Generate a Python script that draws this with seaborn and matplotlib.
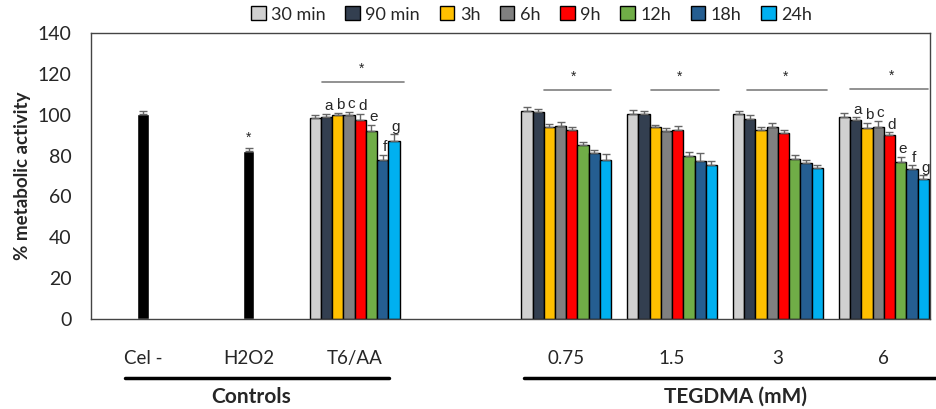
import numpy as np
import matplotlib
matplotlib.use("Agg")
import matplotlib.pyplot as plt
import matplotlib.transforms as mtransforms
import pandas as pd
import seaborn as sns

# categories on the x axis (one blank slot between controls and TEGDMA)
categories = ["Cel -", "H2O2", "T6/AA", " ", "0.75", "1.5", "3", "6"]
grouped_cats = ["T6/AA", "0.75", "1.5", "3", "6"]
times = ["30 min", "90 min", "3h", "6h", "9h", "12h", "18h", "24h"]
colors = ["#D0D0D0", "#333F50", "#FFC000", "#808080",
          "#FF0000", "#70AD47", "#255E91", "#00B0F0"]

# control bars (black, single value)
control_cats = ["Cel -", "H2O2"]
control_vals = [100.5, 82.2]
control_err = [1.5, 1.5]

# mean % metabolic activity per time, for T6/AA, 0.75, 1.5, 3, 6 mM
vals_30min = [98.4, 101.7, 100.2, 100.2, 98.9]
vals_90min = [98.9, 101.4, 100.2, 98.1, 97.3]
vals_3h = [99.9, 94.0, 94.0, 92.4, 93.5]
vals_6h = [99.9, 94.5, 91.9, 94.0, 94.0]
vals_9h = [97.3, 92.4, 92.4, 91.1, 90.0]
vals_12h = [92.0, 85.0, 80.0, 78.6, 76.9]
vals_18h = [77.7, 81.3, 77.4, 76.4, 73.7]
vals_24h = [87.2, 77.7, 75.6, 73.8, 68.8]

err_30min = [1.3, 2.0, 2.0, 1.8, 2.0]
err_90min = [1.5, 1.5, 1.5, 2.0, 1.5]
err_3h = [1.0, 1.5, 1.0, 1.5, 2.5]
err_6h = [1.5, 2.0, 1.5, 2.0, 3.0]
err_9h = [3.2, 1.5, 2.0, 1.5, 1.5]
err_12h = [3.1, 1.5, 2.0, 1.5, 2.5]
err_18h = [2.8, 1.5, 4.0, 1.5, 1.5]
err_24h = [3.2, 3.0, 2.0, 1.5, 1.5]

letters = ["", "a", "b", "c", "d", "e", "f", "g"]
letter_cats = ["T6/AA", "6"]

all_vals = [vals_30min, vals_90min, vals_3h, vals_6h, vals_9h, vals_12h, vals_18h, vals_24h]
all_errs = [err_30min, err_90min, err_3h, err_6h, err_9h, err_12h, err_18h, err_24h]

rows = []
for t, vv, ee in zip(times, all_vals, all_errs):
    for c, v, e in zip(grouped_cats, vv, ee):
        rows.append({"cat": c, "time": t, "val": v, "err": e})
df = pd.DataFrame(rows)

sns.set_style("white")
plt.rcParams["font.family"] = ["Lato", "DejaVu Sans"]

fig = plt.figure(figsize=(9.37, 4.09), dpi=100)
ax = fig.add_axes([0.097, 0.22, 0.896, 0.699])

group_w = 0.85
sns.barplot(data=df, x="cat", y="val", hue="time", order=categories,
            hue_order=times, palette=colors, saturation=1, edgecolor="black",
            linewidth=1.0, width=group_w, errorbar=None, ax=ax, zorder=2)

# control bars
ctrl_x = [categories.index(c) for c in control_cats]
ax.bar(ctrl_x, control_vals, width=0.11, color="black", zorder=2)
ax.errorbar(ctrl_x, control_vals, yerr=[np.zeros(len(control_err)), control_err],
            fmt="none", ecolor="#666666", elinewidth=1, capsize=3, zorder=3)
ax.text(ctrl_x[1], control_vals[1] + control_err[1] + 1.5, "*", ha="center",
        va="bottom", fontsize=10, family="Liberation Sans")

# error bars for grouped bars (positions follow seaborn's dodge)
n = len(times)
bw = group_w / n
offsets = np.linspace(-group_w / 2 + bw / 2, group_w / 2 - bw / 2, n)
for i in range(n):
    xs = np.array([categories.index(c) for c in grouped_cats]) + offsets[i]
    vv = np.array(all_vals[i])
    ee = np.array(all_errs[i])
    ax.errorbar(xs, vv, yerr=[np.zeros(len(ee)), ee], fmt="none",
                ecolor="#666666", elinewidth=1, capsize=3, capthick=1, zorder=3)
    if letters[i]:
        for c in letter_cats:
            j = grouped_cats.index(c)
            ax.text(xs[j] + 0.02, vv[j] + ee[j] + 0.3, letters[i], ha="center",
                    va="bottom", fontsize=11, family="Liberation Sans")

# significance lines with stars
sig_cats = ["T6/AA", "0.75", "1.5", "3", "6"]
sig_left = [-0.31, -0.21, -0.2, -0.29, -0.32]
sig_right = [0.47, 0.42, 0.44, 0.46, 0.42]
sig_y = [116, 112, 112, 112, 112.5]
for c, l, r, y in zip(sig_cats, sig_left, sig_right, sig_y):
    x0 = categories.index(c)
    ax.plot([x0 + l, x0 + r], [y, y], color="#7f7f7f", lw=1.2, zorder=3)
    ax.text(x0 + 0.07, y + 3, "*", ha="center", va="bottom", fontsize=10,
            family="Liberation Sans")

ax.set_xlim(-0.49, 7.44)
ax.set_ylim(0, 140)
ax.set_yticks(range(0, 141, 20))
ax.set_xlabel("")
ax.set_ylabel("% metabolic activity", fontsize=13.5, fontweight="bold", labelpad=5)
ax.tick_params(axis="y", labelsize=14, length=0, pad=14)
ax.tick_params(axis="x", labelsize=13.5, length=0, pad=22)
for s in ax.spines.values():
    s.set_visible(True)
    s.set_color("#444444")
    s.set_linewidth(1.0)

# group brackets below the axis
trans = mtransforms.blended_transform_factory(ax.transData, ax.transAxes)
ax.plot([-0.17, 2.33], [-0.206, -0.206], color="black", lw=2.5,
        transform=trans, clip_on=False)
ax.plot([3.6, 7.52], [-0.206, -0.206], color="black", lw=2.5,
        transform=trans, clip_on=False)
ax.text(1.02, -0.272, "Controls", transform=trans, ha="center", va="center",
        fontsize=15, fontweight="bold")
ax.text(5.6, -0.272, "TEGDMA (mM)", transform=trans, ha="center", va="center",
        fontsize=15, fontweight="bold")

handles, labels = ax.get_legend_handles_labels()
ax.legend(handles, labels, ncol=8, loc="center", bbox_to_anchor=(0.525, 1.065),
          frameon=False, fontsize=13, handlelength=0.8, handleheight=0.8,
          handletextpad=0.3, columnspacing=1.1, borderaxespad=0)

fig.savefig("out.png", dpi=100)
